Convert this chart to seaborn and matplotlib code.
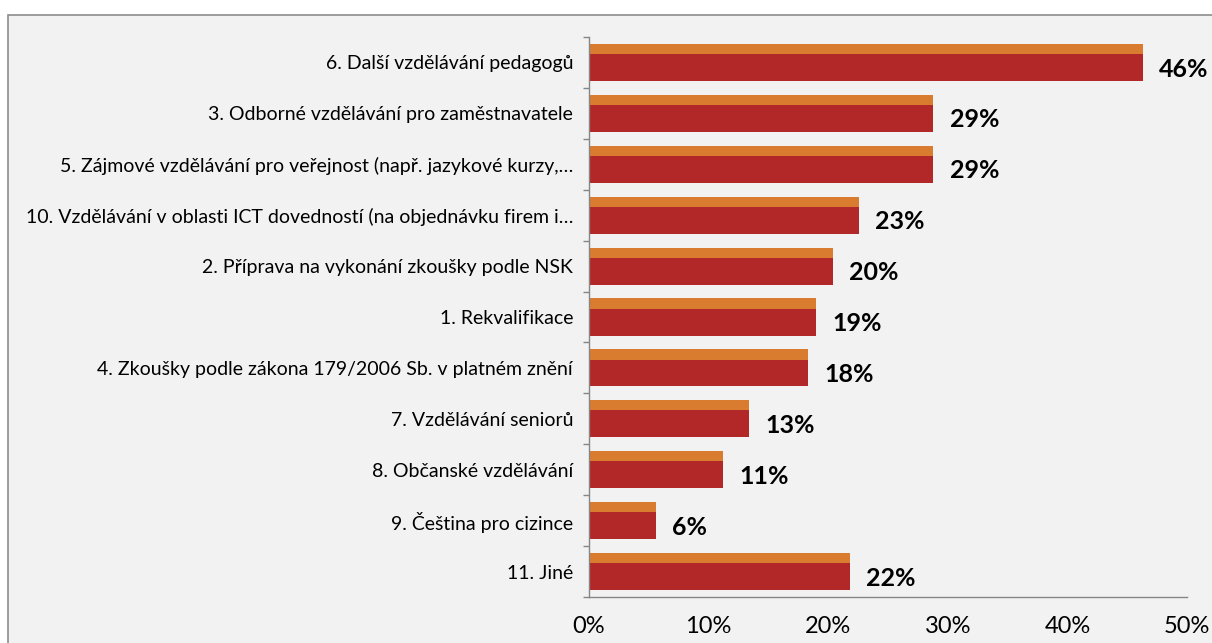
import numpy as np
import pandas as pd
import matplotlib
matplotlib.use("Agg")
import matplotlib.pyplot as plt
import seaborn as sns
from matplotlib.patches import Rectangle
from matplotlib.ticker import FixedLocator

# Categories (top to bottom) and their shares in percent
categories = [
    "6. Další vzdělávání pedagogů",
    "3. Odborné vzdělávání pro zaměstnavatele",
    "5. Zájmové vzdělávání pro veřejnost (např. jazykové kurzy,…",
    "10. Vzdělávání v oblasti ICT dovedností (na objednávku firem i…",
    "2. Příprava na vykonání zkoušky podle NSK",
    "1. Rekvalifikace",
    "4. Zkoušky podle zákona 179/2006 Sb. v platném znění",
    "7. Vzdělávání seniorů",
    "8. Občanské vzdělávání",
    "9. Čeština pro cizince",
    "11. Jiné",
]
shares = [46.3, 28.8, 28.8, 22.6, 20.4, 19.0, 18.3, 13.4, 11.2, 5.6, 21.8]
x_ticks = [0, 10, 20, 30, 40, 50]
x_tick_labels = ["0%", "10%", "20%", "30%", "40%", "50%"]

sns.set_theme(style="white")
plt.rcParams["font.family"] = ["Lato", "DejaVu Sans"]

df = pd.DataFrame({"kategorie": categories, "podil": shares})

W, H = 1212, 643
fig = plt.figure(figsize=(W / 100, H / 100), dpi=100, facecolor="white")

# grey chart-area panel with a thin border
fig.patches.append(Rectangle((8 / W, -0.05), 1.2, 0.05 + 1 - 15 / H,
                             transform=fig.transFigure, facecolor="#f2f2f2",
                             edgecolor="#8c8c8c", lw=1.2, zorder=-10))

ax = fig.add_axes([589 / W, 1 - 597 / H, (1187 - 589) / W, (597 - 37) / H])
ax.set_facecolor("none")

BAR_W = 0.73   # full bar thickness (category units)
TOP = 0.2      # thickness of the lighter top face

sns.barplot(data=df, x="podil", y="kategorie", orient="h", color="#d97c2f",
            width=BAR_W, saturation=1, edgecolor="none", ax=ax)
n_top = len(ax.patches)
sns.barplot(data=df, x="podil", y="kategorie", orient="h", color="#b22727",
            width=BAR_W, saturation=1, edgecolor="none", ax=ax)
for p in ax.patches[n_top:]:
    p.set_y(p.get_y() + TOP)
    p.set_height(p.get_height() - TOP)

# value labels next to each bar, centred on the front face
for i, v in enumerate(shares):
    ax.text(v + 1.35, i + TOP / 2 + 0.03, f"{v:.0f}%", va="center", ha="left",
            fontsize=18, fontweight="bold", color="black")

ax.set_xlim(0, 50)
ax.set_ylim(len(categories) - 0.5, -0.5)
ax.set_xlabel("")
ax.set_ylabel("")

axis_grey = "#868686"
for side in ["top", "right"]:
    ax.spines[side].set_visible(False)
for side in ["left", "bottom"]:
    ax.spines[side].set_color(axis_grey)
    ax.spines[side].set_linewidth(1.0)

ax.xaxis.set_major_locator(FixedLocator(x_ticks))
ax.set_xticklabels(x_tick_labels)
ax.tick_params(axis="x", which="major", direction="out", length=4, width=1,
               color=axis_grey, pad=9.5, labelsize=17, labelcolor="black")

ax.yaxis.set_minor_locator(FixedLocator(np.arange(-0.5, len(categories), 1.0)))
ax.tick_params(axis="y", which="minor", direction="out", length=4, width=1,
               color=axis_grey, left=True)
ax.tick_params(axis="y", which="major", length=0, pad=11.5, labelsize=14,
               labelcolor="black")

fig.savefig("out.png", dpi=100, facecolor="white")
